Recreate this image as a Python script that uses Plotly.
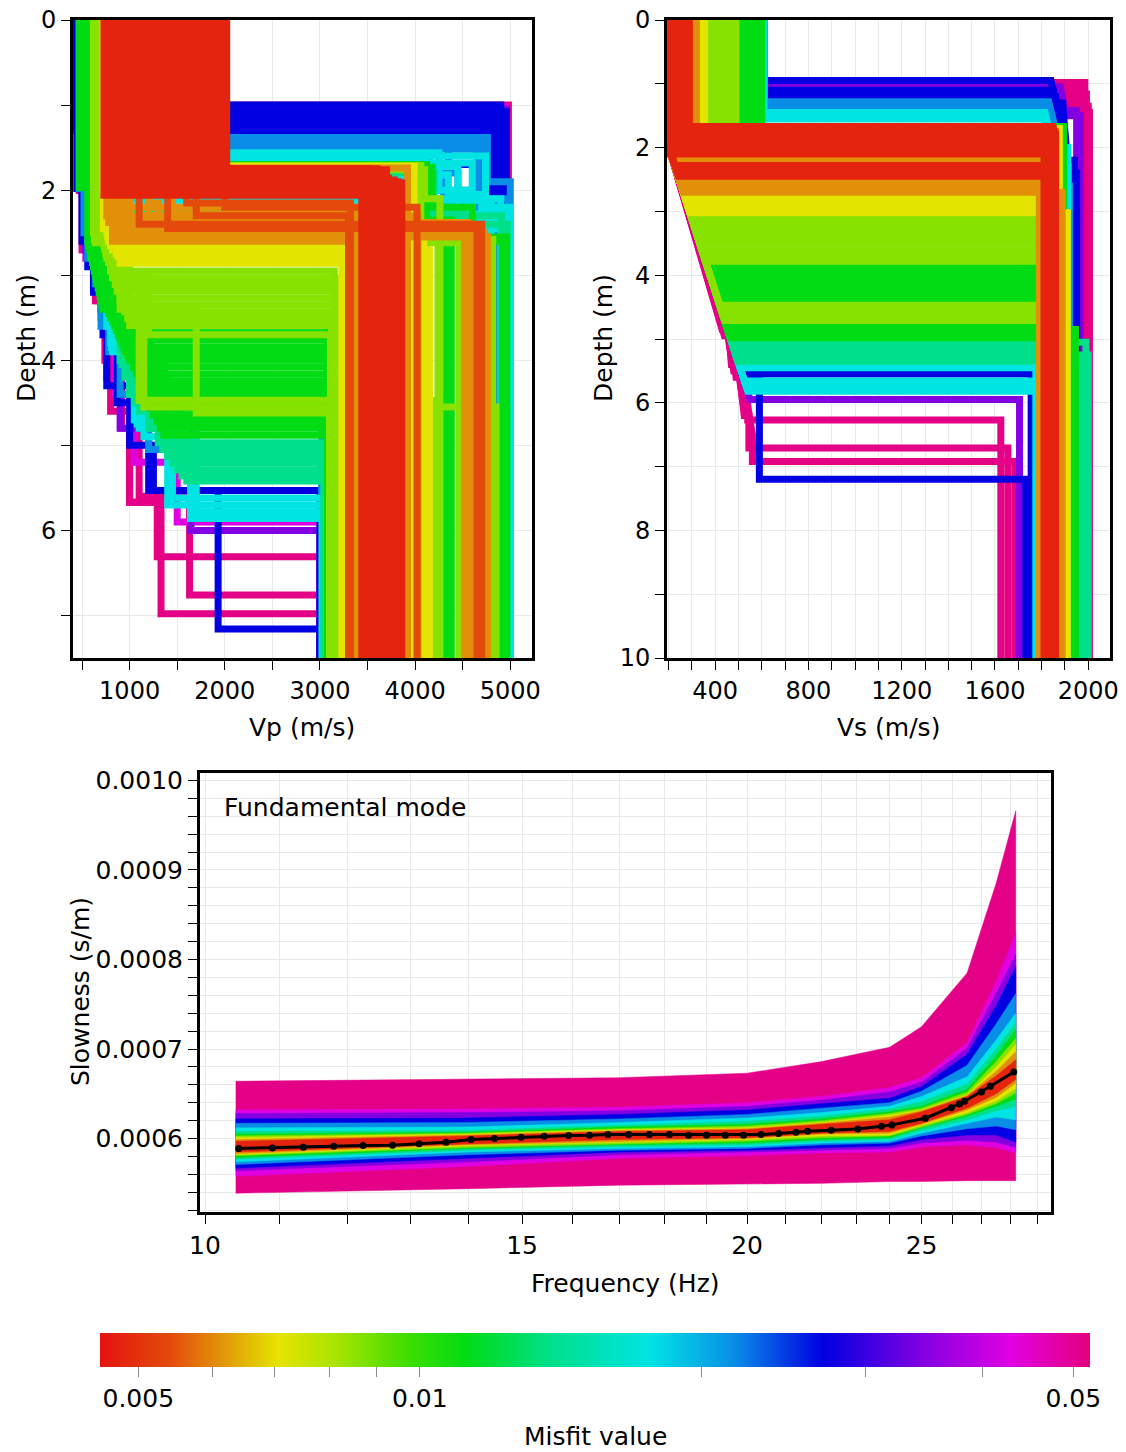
import math
import plotly.graph_objects as go
from plotly.colors import sample_colorscale

W, H = 1126, 1452
FONT = "DejaVu Sans"
GRID = "#e9e9e9"

# ---------------- misfit colour scale ----------------
MISFIT_MIN = 0.00455
MISFIT_MAX = 0.0521
COLORSCALE = [
    [0.00, "rgb(229,18,15)"],
    [0.07, "rgb(227,74,12)"],
    [0.12, "rgb(226,144,10)"],
    [0.18, "rgb(230,228,0)"],
    [0.24, "rgb(166,228,0)"],
    [0.31, "rgb(64,222,0)"],
    [0.37, "rgb(0,220,20)"],
    [0.455, "rgb(0,224,138)"],
    [0.555, "rgb(0,228,228)"],
    [0.64, "rgb(10,142,230)"],
    [0.73, "rgb(0,0,226)"],
    [0.83, "rgb(130,0,226)"],
    [0.92, "rgb(224,0,226)"],
    [1.00, "rgb(228,0,124)"],
]
CBAR_TICKS = [0.005, 0.006, 0.007, 0.008, 0.009, 0.01, 0.02, 0.03, 0.04, 0.05]
CBAR_LABELS = ["0.005", "", "", "", "", "0.01", "", "", "", "0.05"]

# misfit classes (drawn from worst to best)
CLASS_NAMES = ["pink", "magenta", "purple", "blue", "azure", "cyan", "seagreen",
               "green", "lime", "yellow", "orange", "redorange", "red"]
CLASS_MISFIT = [0.051, 0.0429, 0.0344, 0.027, 0.0217, 0.0176, 0.0138,
                0.0112, 0.0086, 0.0071, 0.0061, 0.0054, 0.0048]

# ---------------- Vp profiles: [v1, bottom1, v2, bottom2, ..., v_halfspace] ----------------
VP_PINK = [
    [470, 2.0, 500, 2.7, 640, 3.3, 740, 4.0, 800, 4.6, 1000, 5.67, 1290, 6.31, 3000],
    [480, 2.0, 520, 2.7, 660, 3.3, 760, 4.2, 915, 4.8, 1000, 5.67, 1330, 6.98, 3000],
    [500, 2.05, 620, 3.0, 820, 4.4, 1100, 5.6, 1630, 6.76, 3000],
    [1500, 1.0, 4980],
]
VP_MAGENTA = [
    [520, 2.0, 540, 2.8, 700, 3.5, 850, 4.4, 1050, 5.2, 1500, 5.9, 3000],
    [1600, 1.02, 4940],
]
VP_PURPLE = [
    [490, 2.0, 530, 2.7, 700, 3.4, 900, 4.8, 1645, 6.0, 3000],
    [1400, 1.05, 4960],
]
VP_BLUE = [
    [440, 1.0, 4900],
    [430, 1.08, 4960],
    [450, 1.15, 4850],
    [440, 1.22, 4800],
    [435, 1.3, 4920],
    [600, 1.34, 4350, 1.7, 4700, 2.05, 4870],
    [445, 1.98, 500, 2.6, 620, 3.2, 760, 4.3, 1000, 5.0, 1250, 5.53, 1930, 7.16, 3000],
    [450, 1.97, 560, 2.9, 720, 3.7, 870, 4.5, 1200, 5.53, 3000],
]
VP_AZURE = [
    [600, 1.38, 4760, 1.9, 5000],
    [610, 1.42, 4150, 1.8, 4450, 2.25, 4935],
    [620, 1.45, 4700, 2.1, 4980],
    [580, 1.52, 4650, 2.3, 4950],
    [600, 1.9, 4300, 2.15, 4860],
    [600, 2.0, 4650],
    [470, 1.98, 520, 2.5, 640, 3.1, 780, 3.9, 1050, 4.7, 3020],
    [480, 1.98, 560, 2.8, 700, 3.6, 900, 4.4, 1200, 5.05, 3020],
]
VP_CYAN = [
    [605, 1.56, 4250, 2.0, 4550, 2.35, 4975],
    [600, 1.6, 4740, 2.2, 5000],
    [600, 1.64, 4100, 2.1, 4900],
    [590, 1.68, 4600, 2.45, 4990],
    [600, 1.72, 4450, 2.28, 4940],
    [600, 1.82, 4350, 2.05, 4700],
    [600, 2.12, 4800],
    [520, 1.97, 600, 2.8, 760, 3.6, 1000, 4.4, 1150, 4.9, 1640, 5.86, 3030],
    [540, 1.97, 650, 3.0, 820, 3.9, 1050, 4.7, 1700, 5.78, 3030],
    [530, 1.97, 620, 2.9, 800, 3.8, 1080, 4.75, 1400, 5.7, 3030],
    [535, 1.97, 630, 2.95, 810, 3.85, 1100, 4.8, 1450, 5.62, 3030],
    [610, 2.4, 4990],
]
VP_SEAGREEN = [
    [605, 1.8, 4200, 2.4, 4970],
    [605, 1.95, 4150, 2.3, 4910],
    [600, 2.25, 4500],
    [560, 1.98, 700, 3.0, 900, 4.0, 1300, 4.97, 3050],
    [570, 1.98, 710, 3.05, 920, 4.05, 1350, 5.05, 3050],
    [580, 1.98, 720, 3.1, 950, 4.2, 1400, 5.13, 3050],
    [590, 1.98, 760, 3.2, 1000, 4.4, 1450, 5.21, 3060],
    [600, 1.98, 800, 3.4, 1100, 4.6, 1500, 5.29, 3060],
    [585, 1.98, 780, 3.3, 1050, 4.5, 1550, 5.36, 3040],
    [575, 1.98, 820, 3.5, 1200, 4.8, 1600, 5.42, 3060],
]
VP_GREEN = [
    [2000, 1.7, 4120],
    [2010, 1.73, 4180, 2.2, 4600],
    [470, 1.97, 560, 2.6, 700, 3.2, 880, 3.6, 3080],
    [478, 1.97, 570, 2.65, 710, 3.25, 900, 3.68, 3082],
    [486, 1.97, 580, 2.7, 720, 3.3, 920, 3.76, 3084],
    [494, 1.97, 590, 2.75, 740, 3.35, 950, 3.84, 3086],
    [502, 1.97, 600, 2.8, 760, 3.4, 980, 3.92, 3088],
    [510, 1.97, 610, 2.85, 780, 3.45, 1010, 4.0, 3090],
    [518, 1.97, 620, 2.9, 800, 3.5, 1040, 4.08, 3080],
    [526, 1.97, 630, 2.95, 820, 3.55, 1070, 4.16, 3082],
    [534, 1.97, 640, 3.0, 840, 3.6, 1100, 4.24, 3084],
    [542, 1.97, 650, 3.05, 860, 3.65, 1130, 4.32, 3086],
    [550, 1.97, 660, 3.1, 880, 3.7, 1160, 4.4, 3088],
    [558, 1.97, 670, 3.15, 900, 3.75, 1190, 4.48, 3090],
    [566, 1.97, 680, 3.2, 920, 3.8, 1220, 4.56, 3080],
    [574, 1.97, 690, 3.25, 940, 3.85, 1250, 4.64, 3082],
    [582, 1.97, 700, 3.3, 960, 3.9, 1280, 4.72, 3084],
    [590, 1.97, 710, 3.35, 980, 3.95, 1320, 4.8, 3086],
    [598, 1.97, 720, 3.4, 1000, 4.0, 1360, 4.88, 3088],
    [605, 2.55, 4960],
    [600, 2.6, 4920],
    [610, 2.3, 800, 2.6, 4310],
    [615, 2.35, 4380],
]
VP_LIME = [
    [1950, 1.71, 4060],
    [1980, 1.76, 4100, 2.1, 4260],
    [620, 1.98, 700, 2.5, 800, 2.95, 3150],
    [630, 1.98, 710, 2.55, 820, 3.03, 3160],
    [640, 1.98, 720, 2.6, 850, 3.11, 3170],
    [650, 1.98, 730, 2.65, 870, 3.19, 3180],
    [660, 1.98, 740, 2.7, 900, 3.27, 3190],
    [670, 1.98, 750, 2.75, 920, 3.35, 3200],
    [680, 1.98, 760, 2.8, 950, 3.43, 3210],
    [690, 1.98, 780, 2.85, 980, 3.51, 3220],
    [700, 1.98, 800, 2.9, 1000, 3.59, 3120],
    [705, 1.98, 820, 3.0, 1200, 3.7, 3110],
    [690, 1.98, 820, 3.0, 1100, 4.47, 4200],
    [670, 1.98, 850, 3.1, 1150, 4.55, 4850],
    [700, 1.98, 900, 3.4, 1700, 4.62, 3100],
    [620, 2.5, 4240],
    [630, 2.58, 4815],
    [640, 2.62, 4460],
]
VP_YELLOW = [
    [1900, 1.72, 3990],
    [725, 2.45, 4090],
    [720, 2.0, 760, 2.5, 850, 2.62, 3240],
    [730, 2.0, 770, 2.55, 860, 2.7, 3250],
    [740, 2.0, 780, 2.6, 880, 2.78, 3260],
    [750, 2.0, 800, 2.65, 900, 2.86, 3230],
    [735, 2.02, 820, 2.7, 4150],
    [745, 2.02, 860, 2.75, 4000],
]
VP_ORANGE = [
    [1800, 1.74, 3920],
    [900, 2.12, 1000, 2.45, 3300],
    [850, 2.15, 950, 2.53, 3350],
    [800, 2.2, 3900],
    [760, 2.3, 4030],
    [780, 2.38, 4550],
    [1200, 2.15, 1300, 2.5, 4730],
    [820, 2.6, 3400],
    [1000, 2.35, 3300],
    [1200, 2.3, 3350],
    [1450, 2.28, 3910],
    [950, 2.5, 4520],
    [880, 2.55, 4760],
    [900, 2.4, 4590],
]
VP_REDORANGE = [
    [1400, 2.45, 4650],
    [1700, 2.3, 3300],
    [2000, 2.2, 4020],
    [1100, 2.4, 4700],
    [1600, 2.15, 3320],
]
VP_RED = [
    [730, 2.06, 3450], [790, 2.05, 3500], [850, 2.04, 3550], [910, 2.03, 3600],
    [970, 2.02, 3650], [1030, 2.0, 3700], [1090, 1.98, 3750], [1150, 1.96, 3800],
    [1210, 1.94, 3840], [1270, 1.92, 3860], [1330, 1.9, 3820], [1390, 1.88, 3780],
    [1450, 1.86, 3720], [1510, 1.84, 3680], [1570, 1.82, 3620], [1630, 1.8, 3580],
    [1690, 1.79, 3520], [1750, 1.78, 3480], [1810, 1.77, 3460], [1870, 1.76, 3440],
    [1930, 1.75, 3500], [1990, 1.75, 3600], [2020, 1.76, 3700],
]

# ---------------- Vs profiles: polyline nodes [v0, d0, v1, d1, ...], last node continues down ----------------
VS_PINK = [
    [600, 0, 600, 0.98, 1985, 0.98],
    [600, 0, 600, 1.08, 1980, 1.08],
    [600, 0, 600, 1.16, 1992, 1.16],
    [598, 0, 598, 1.25, 1972, 1.25],
    [600, 0, 600, 1.35, 2000, 1.35],
    [595, 0, 595, 1.45, 2005, 1.45],
    [590, 0, 590, 1.97, 200, 1.97, 430, 4.85, 450, 4.85, 480, 5.5, 500, 5.5, 520, 6.0, 540, 6.0, 540, 6.27, 1625, 6.27],
    [585, 0, 585, 1.97, 200, 1.97, 440, 4.95, 460, 4.95, 470, 5.4, 500, 5.4, 525, 6.2, 545, 6.2, 545, 6.71, 1655, 6.71],
    [580, 0, 580, 1.97, 200, 1.97, 445, 4.9, 470, 4.9, 490, 5.6, 520, 5.6, 555, 6.5, 560, 6.5, 560, 6.92, 1685, 6.92],
]
VS_PURPLE = [
    [600, 0, 600, 1.05, 1880, 1.05, 1905, 1.5, 1965, 1.5],
    [600, 0, 600, 1.42, 1950, 1.42],
    [575, 0, 575, 1.97, 200, 1.97, 550, 5.95, 1705, 5.95],
]
VS_BLUE = [
    [612, 0, 612, 0.95, 1840, 0.95, 1860, 1.3, 1890, 1.3, 1910, 2.2, 1940, 2.2],
    [612, 0, 612, 1.1, 1850, 1.1, 1875, 1.5, 1900, 2.4, 1950, 2.4],
    [612, 0, 612, 1.2, 1860, 1.2, 1885, 1.7, 1925, 2.5, 1935, 2.5],
    [570, 0, 570, 1.97, 200, 1.97, 515, 5.55, 1755, 5.55],
    [565, 0, 565, 1.97, 200, 1.97, 520, 5.6, 590, 5.6, 590, 7.2, 1732, 7.2],
]
VS_AZURE = [
    [612, 0, 612, 1.28, 1830, 1.28, 1865, 1.8, 1905, 2.6, 1920, 2.6],
    [612, 0, 612, 1.36, 1820, 1.36, 1860, 1.9, 1900, 2.3, 1915, 2.3],
]
VS_CYAN = [
    [610, 0, 610, 1.45, 1815, 1.45, 1850, 2.0, 1912, 2.0],
    [605, 0, 605, 1.55, 1810, 1.55, 1845, 2.1, 1905, 2.1],
    [560, 0, 560, 1.97, 200, 1.97, 506, 5.45, 1775, 5.45],
    [555, 0, 555, 1.97, 200, 1.97, 526, 5.66, 1785, 5.66],
    [550, 0, 550, 1.97, 200, 1.97, 533, 5.74, 1780, 5.74],
    [548, 0, 548, 1.97, 200, 1.97, 540, 5.82, 1790, 5.82],
]
VS_SEAGREEN = [
    [545, 0, 545, 1.97, 200, 1.97, 471, 5.05, 1990, 5.05],
    [542, 0, 542, 1.97, 200, 1.97, 480, 5.15, 1800, 5.15],
    [540, 0, 540, 1.97, 200, 1.97, 489, 5.25, 2000, 5.25],
    [535, 0, 535, 1.97, 200, 1.97, 497, 5.35, 1975, 5.35],
]
VS_GREEN = [
    [500, 0, 500, 1.97, 200, 1.97, 365, 3.85, 1800, 3.85],
    [510, 0, 510, 1.97, 200, 1.97, 372, 3.93, 1800, 3.93],
    [520, 0, 520, 1.97, 200, 1.97, 379, 4.0, 1800, 4.0],
    [530, 0, 530, 1.97, 200, 1.97, 386, 4.08, 1800, 4.08],
    [540, 0, 540, 1.97, 200, 1.97, 392, 4.15, 1800, 4.15],
    [550, 0, 550, 1.97, 200, 1.97, 399, 4.23, 1800, 4.23],
    [560, 0, 560, 1.97, 200, 1.97, 405, 4.3, 1800, 4.3],
    [570, 0, 570, 1.97, 200, 1.97, 412, 4.38, 1800, 4.38],
    [575, 0, 575, 1.97, 200, 1.97, 446, 4.78, 1800, 4.78],
    [580, 0, 580, 1.97, 200, 1.97, 453, 4.85, 1945, 4.85],
    [590, 0, 590, 1.97, 200, 1.97, 459, 4.92, 1935, 4.92],
    [600, 0, 600, 1.97, 200, 1.97, 465, 4.98, 1800, 4.98],
    [595, 0, 595, 1.67, 1895, 1.67],
]
VS_LIME = [
    [380, 0, 380, 1.97, 200, 1.97, 299, 3.1, 1800, 3.1],
    [390, 0, 390, 1.97, 200, 1.97, 308, 3.2, 1800, 3.2],
    [400, 0, 400, 1.97, 200, 1.97, 317, 3.3, 1800, 3.3],
    [410, 0, 410, 1.97, 200, 1.97, 326, 3.4, 1800, 3.4],
    [420, 0, 420, 1.97, 200, 1.97, 335, 3.5, 1800, 3.5],
    [430, 0, 430, 1.97, 200, 1.97, 343, 3.6, 1800, 3.6],
    [440, 0, 440, 1.97, 200, 1.97, 352, 3.7, 1800, 3.7],
    [450, 0, 450, 1.97, 200, 1.97, 358, 3.78, 1800, 3.78],
    [460, 0, 460, 1.97, 200, 1.97, 420, 4.47, 1800, 4.47],
    [470, 0, 470, 1.97, 200, 1.97, 427, 4.55, 1800, 4.55],
    [480, 0, 480, 1.97, 200, 1.97, 434, 4.63, 1800, 4.63],
    [490, 0, 490, 1.97, 200, 1.97, 441, 4.71, 1800, 4.71],
]
VS_YELLOW = [
    [340, 0, 340, 1.97, 200, 1.97, 271, 2.78, 1800, 2.78],
    [345, 0, 345, 1.97, 200, 1.97, 278, 2.86, 1800, 2.86],
    [350, 0, 350, 1.97, 200, 1.97, 285, 2.94, 1800, 2.94],
    [355, 0, 355, 1.97, 200, 1.97, 292, 3.02, 1910, 3.02],
    [345, 0, 345, 1.7, 1876, 1.7],
]
VS_ORANGE = [
    [300, 0, 300, 1.97, 200, 1.97, 216, 2.18, 1790, 2.18],
    [310, 0, 310, 1.97, 200, 1.97, 250, 2.54, 1800, 2.54],
    [315, 0, 315, 1.97, 200, 1.97, 257, 2.62, 1800, 2.62],
    [320, 0, 320, 1.97, 200, 1.97, 264, 2.7, 1888, 2.7],
]
VS_RED = [
    [205, 0, 205, 2.1, 1810, 2.1],
    [215, 0, 215, 2.05, 1820, 2.05],
    [225, 0, 225, 2.0, 1830, 2.0],
    [235, 0, 235, 1.95, 1840, 1.95],
    [245, 0, 245, 1.9, 1850, 1.9],
    [255, 0, 255, 1.85, 1856, 1.85],
    [265, 0, 265, 1.8, 1860, 1.8],
    [275, 0, 275, 1.75, 1858, 1.75],
    [285, 0, 285, 1.7, 1850, 1.7],
    [290, 0, 290, 1.67, 1845, 1.67],
    [240, 0, 240, 1.97, 200, 1.97, 228, 2.28, 1820, 2.28],
    [250, 0, 250, 1.97, 200, 1.97, 236, 2.37, 1830, 2.37],
    [260, 0, 260, 1.97, 200, 1.97, 243, 2.45, 1815, 2.45],
]

# ---------------- dispersion envelopes (slowness in 1e-6 s/m) ----------------
FREQ_NODES = [10.4, 14, 17, 20, 22, 24, 25, 26.5, 27.5, 28.2]
UP_PINK = [664, 666, 668, 673, 686, 702, 725, 785, 885, 966]
LO_PINK = [539, 544, 548, 549, 550, 552, 552, 553, 553, 553]
UP_MAGENTA = [632, 633, 635, 640, 647, 657, 668, 707, 775, 830]
LO_MAGENTA = [558, 569, 578, 581, 584, 585, 591, 593, 590, 584]
UP_PURPLE = [628, 629, 631, 636, 643, 652, 663, 701, 762, 805]
LO_PURPLE = [564, 574, 582, 585, 587, 589, 595, 598, 596, 590]
UP_BLUE = [622, 623, 627, 632, 639, 645, 658, 694, 748, 792]
LO_BLUE = [567, 578, 585, 587, 590, 592, 599, 604, 604, 596]
UP_AZURE = [617, 618, 622, 627, 634, 640, 653, 682, 728, 762]
LO_AZURE = [571, 582, 587, 589, 593, 595, 603, 611, 614, 610]
UP_CYAN = [612, 613, 618, 623, 629, 636, 647, 669, 710, 740]
LO_CYAN = [574, 585, 589, 591, 595, 597, 606, 617, 624, 621]
UP_SEAGREEN = [608, 609, 615, 619, 625, 633, 641, 661, 700, 730]
LO_SEAGREEN = [577, 587, 591, 593, 597, 599, 609, 621, 631, 636]
UP_GREEN = [605, 607, 613, 616, 622, 630, 636, 655, 692, 722]
LO_GREEN = [579, 589, 593, 595, 599, 601, 612, 625, 636, 644]
UP_LIME = [603, 606, 611, 614, 620, 628, 634, 652, 686, 712]
LO_LIME = [581, 590, 594, 597, 601, 603, 613, 627, 639, 651]
UP_YELLOW = [601, 605, 610, 612, 618, 626, 632, 649, 680, 705]
LO_YELLOW = [582, 592, 596, 599, 603, 604, 615, 629, 642, 656]
UP_ORANGE = [599, 604, 609, 611, 617, 624, 631, 648, 675, 697]
LO_ORANGE = [583, 593, 597, 600, 605, 606, 616, 632, 646, 662]
UP_RED = [597, 603, 608, 610, 616, 621, 630, 647, 670, 688]
LO_RED = [585, 594, 599, 601, 606, 608, 617, 634, 650, 666]
SLOW_UNIT = 1e-6

# observed dispersion curve (black)
OBS_FREQ = [10.44, 10.90, 11.34, 11.79, 12.24, 12.71, 13.15, 13.61, 14.05, 14.48, 14.98,
            15.43, 15.92, 16.35, 16.74, 17.19, 17.65, 18.11, 18.56, 18.99, 19.45, 19.91,
            20.36, 20.82, 21.29, 21.61, 22.27, 23.04, 23.75, 24.07, 25.12, 25.97, 26.24,
            26.41, 26.99, 27.30, 28.13]
OBS_SLOW = [589.0, 589.6, 590.3, 591.4, 592.2, 592.6, 594.1, 595.9, 598.9, 600.0, 601.5,
            602.6, 603.3, 603.7, 604.5, 604.5, 604.5, 604.5, 603.7, 603.7, 603.7, 603.7,
            604.5, 605.6, 607.1, 608.2, 609.3, 610.8, 613.7, 615.3, 622.7, 634.3, 638.7,
            641.7, 652.1, 658.4, 674.4]

# ---------------- tables built from the lists above ----------------
VP_TABLE = [VP_PINK, VP_MAGENTA, VP_PURPLE, VP_BLUE, VP_AZURE, VP_CYAN, VP_SEAGREEN,
            VP_GREEN, VP_LIME, VP_YELLOW, VP_ORANGE, VP_REDORANGE, VP_RED]
VS_TABLE = [VS_PINK, [], VS_PURPLE, VS_BLUE, VS_AZURE, VS_CYAN, VS_SEAGREEN,
            VS_GREEN, VS_LIME, VS_YELLOW, VS_ORANGE, [], VS_RED]
DISP_LEVELS = [
    (0.051, UP_PINK, LO_PINK), (0.0429, UP_MAGENTA, LO_MAGENTA), (0.0344, UP_PURPLE, LO_PURPLE),
    (0.027, UP_BLUE, LO_BLUE), (0.0217, UP_AZURE, LO_AZURE), (0.0176, UP_CYAN, LO_CYAN),
    (0.0138, UP_SEAGREEN, LO_SEAGREEN), (0.0112, UP_GREEN, LO_GREEN), (0.0086, UP_LIME, LO_LIME),
    (0.0071, UP_YELLOW, LO_YELLOW), (0.0061, UP_ORANGE, LO_ORANGE), (0.0048, UP_RED, LO_RED),
]

LOG_MIN = math.log10(MISFIT_MIN)
LOG_MAX = math.log10(MISFIT_MAX)


def misfit_color(m):
    t = (math.log10(m) - LOG_MIN) / (LOG_MAX - LOG_MIN)
    t = min(max(t, 0.0), 1.0)
    return sample_colorscale(COLORSCALE, [t])[0]


BOTTOM = 12.0


def vp_polyline(flat):
    xs, ys = [], []
    top = 0.0
    for i in range(0, len(flat), 2):
        v = flat[i]
        d = flat[i + 1] if i + 1 < len(flat) else BOTTOM
        xs += [v, v]
        ys += [top, d]
        top = d
    return xs, ys


def vs_polyline(flat):
    xs = list(flat[0::2])
    ys = list(flat[1::2])
    xs.append(xs[-1])
    ys.append(BOTTOM)
    return xs, ys


fig = go.Figure()
LW = 7

for name, misfit, group in zip(CLASS_NAMES, CLASS_MISFIT, VP_TABLE):
    if not group:
        continue
    X, Y = [], []
    for prof in group:
        xs, ys = vp_polyline(prof)
        X += xs + [None]
        Y += ys + [None]
    fig.add_trace(go.Scatter(x=X, y=Y, mode="lines", xaxis="x", yaxis="y",
                             line=dict(color=misfit_color(misfit), width=LW),
                             hoverinfo="skip", showlegend=False))

for name, misfit, group in zip(CLASS_NAMES, CLASS_MISFIT, VS_TABLE):
    if not group:
        continue
    X, Y = [], []
    for prof in group:
        xs, ys = vs_polyline(prof)
        X += xs + [None]
        Y += ys + [None]
    fig.add_trace(go.Scatter(x=X, y=Y, mode="lines", xaxis="x2", yaxis="y2",
                             line=dict(color=misfit_color(misfit), width=LW),
                             hoverinfo="skip", showlegend=False))

for misfit, up, lo in DISP_LEVELS:
    xs = FREQ_NODES + FREQ_NODES[::-1]
    ys = [u * SLOW_UNIT for u in up] + [l * SLOW_UNIT for l in lo[::-1]]
    col = misfit_color(misfit)
    fig.add_trace(go.Scatter(x=xs, y=ys, mode="lines", fill="toself", fillcolor=col,
                             line=dict(color=col, width=0.5), xaxis="x3", yaxis="y3",
                             hoverinfo="skip", showlegend=False))

fig.add_trace(go.Scatter(x=OBS_FREQ, y=[s * SLOW_UNIT for s in OBS_SLOW],
                         mode="lines+markers", xaxis="x3", yaxis="y3",
                         line=dict(color="black", width=3),
                         marker=dict(color="black", size=7),
                         hoverinfo="skip", showlegend=False))

# colour bar (library colour scale)
fig.add_trace(go.Scatter(
    x=[OBS_FREQ[0], OBS_FREQ[0]], y=[OBS_SLOW[0] * SLOW_UNIT] * 2, mode="markers",
    xaxis="x3", yaxis="y3", hoverinfo="skip", showlegend=False,
    marker=dict(size=1, opacity=0, color=[LOG_MIN, LOG_MAX], cmin=LOG_MIN, cmax=LOG_MAX,
                colorscale=COLORSCALE, showscale=True,
                colorbar=dict(orientation="h", x=595 / W, xanchor="center",
                              y=1 - 1333 / H, yanchor="top", len=990, lenmode="pixels",
                              thickness=34, thicknessmode="pixels", xpad=0, ypad=0,
                              outlinewidth=0, ticks="outside", ticklen=10, tickwidth=1,
                              tickcolor="#8a8a8a",
                              tickvals=[math.log10(v) for v in CBAR_TICKS],
                              ticktext=CBAR_LABELS,
                              tickfont=dict(family=FONT, size=25, color="black")))))


def axis(**kw):
    base = dict(showline=True, linewidth=3, linecolor="black", mirror=True,
                ticks="outside", ticklen=9, tickwidth=1, tickcolor="black",
                showgrid=True, gridcolor=GRID, gridwidth=1, zeroline=False,
                automargin=False,
                tickfont=dict(family=FONT, size=24, color="black"))
    base.update(kw)
    return base


def minor(**kw):
    base = dict(ticks="outside", ticklen=9, tickwidth=1, tickcolor="black",
                showgrid=True, gridcolor=GRID, gridwidth=1)
    base.update(kw)
    return base


top_dom = [1 - 658 / H, 1 - 20 / H]
FREQ_MINOR = [11, 12, 13, 14, 16, 17, 18, 19, 21, 22, 23, 24, 26, 27, 28, 29]

fig.update_layout(
    width=W, height=H, margin=dict(l=0, r=0, t=0, b=0, autoexpand=False),
    paper_bgcolor="white", plot_bgcolor="white", showlegend=False,
    font=dict(family=FONT, color="black"),
    xaxis=axis(domain=[73 / W, 532 / W], range=[405, 5228], anchor="y",
               tick0=0, dtick=1000, tickformat="d", minor=minor(tick0=0, dtick=500)),
    yaxis=axis(domain=top_dom, range=[7.5, 0], anchor="x",
               tick0=0, dtick=2, minor=minor(tick0=0, dtick=1)),
    xaxis2=axis(domain=[667 / W, 1110 / W], range=[194, 2093], anchor="y2",
                tick0=0, dtick=400, tickformat="d", minor=minor(tick0=0, dtick=100)),
    yaxis2=axis(domain=top_dom, range=[10, 0], anchor="x2",
                tick0=0, dtick=2, minor=minor(tick0=0, dtick=1)),
    xaxis3=axis(domain=[200 / W, 1051 / W], type="log",
                range=[math.log10(9.936), math.log10(29.5)], anchor="y3",
                tickmode="array", tickvals=[10, 15, 20, 25], ticktext=["10", "15", "20", "25"],
                tickfont=dict(family=FONT, size=25, color="black"),
                minor=minor(tickmode="array", tickvals=FREQ_MINOR)),
    yaxis3=axis(domain=[1 - 1212 / H, 1 - 773 / H], range=[0.000518, 0.0010083], anchor="x3",
                tick0=0, dtick=0.0001, tickformat=".4f",
                tickfont=dict(family=FONT, size=25, color="black"),
                minor=minor(tick0=0, dtick=0.00002)),
)


def ann(text, x, y, size=25, angle=0, xanchor="center"):
    fig.add_annotation(text=text, x=x / W, y=1 - y / H, xref="paper", yref="paper",
                       showarrow=False, textangle=angle, xanchor=xanchor, yanchor="middle",
                       font=dict(family=FONT, size=size, color="black"))


ann("Vp (m/s)", 302, 728)
ann("Depth (m)", 27, 338, angle=-90)
ann("Vs (m/s)", 888, 727)
ann("Depth (m)", 604, 338, angle=-90)
ann("Slowness (s/m)", 80, 992, angle=-90)
ann("Frequency (Hz)", 625, 1283)
ann("Misfit value", 595, 1436)
ann("Fundamental mode", 222, 807, xanchor="left")

fig.write_html("out.html")
